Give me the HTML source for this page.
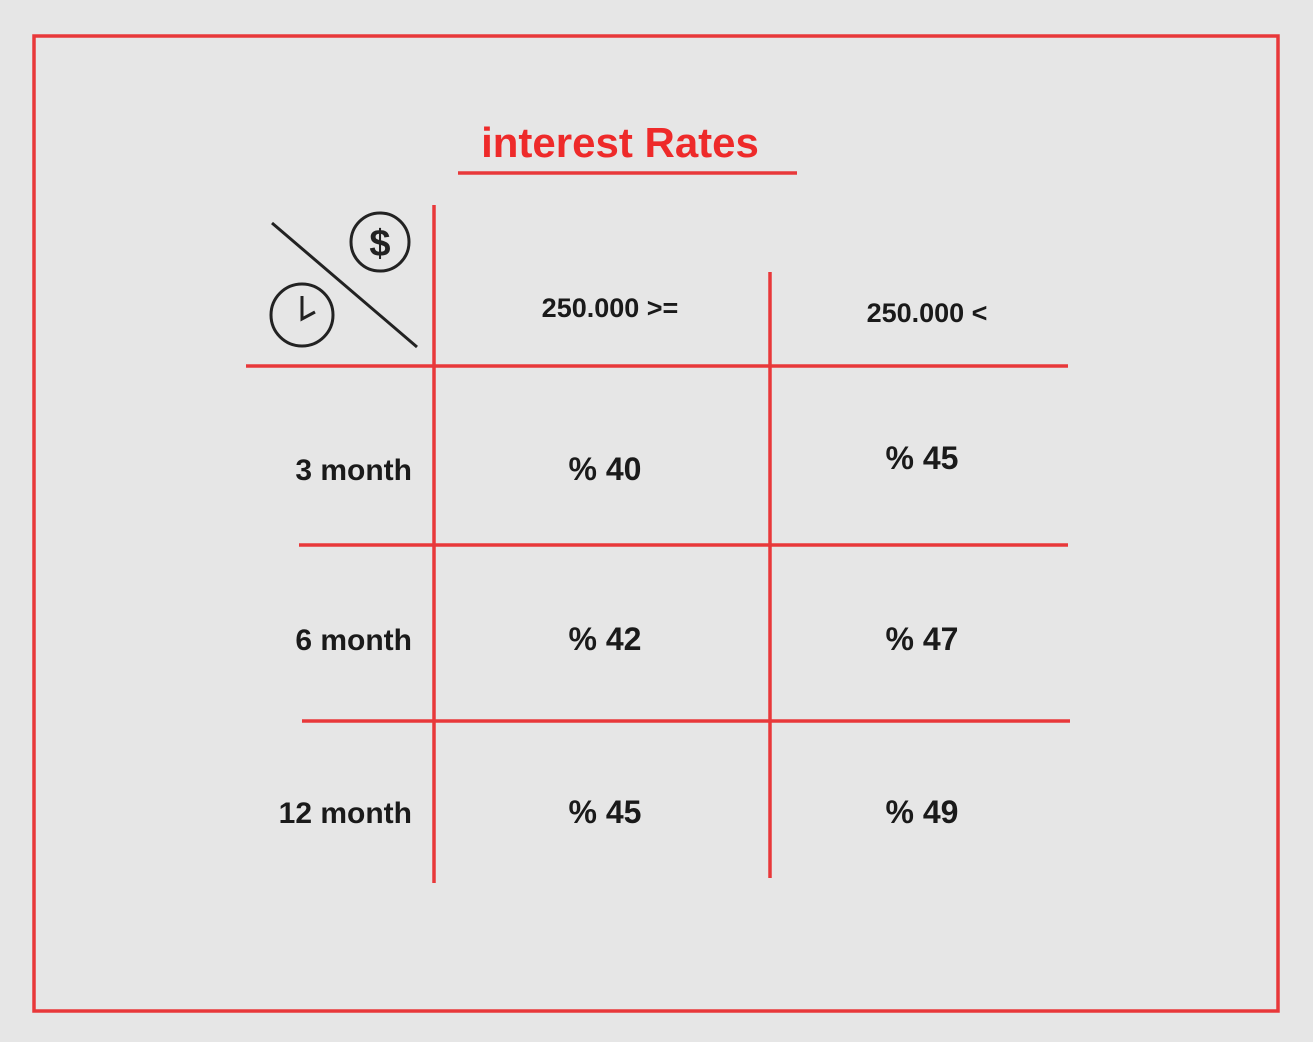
<!DOCTYPE html>
<html><head><meta charset="utf-8"><style>
body{margin:0;background:#e6e6e6;}
svg{display:block;}
text{font-family:"Liberation Sans",sans-serif;}
</style></head><body>
<svg id="chart" width="1313" height="1042" viewBox="0 0 1313 1042">
<rect x="0" y="0" width="1313" height="1042" fill="#e6e6e6"/>
<rect x="34" y="36" width="1244" height="975" fill="none" stroke="#e8383a" stroke-width="3.5"/>
<text x="620" y="157" text-anchor="middle" font-size="42" font-weight="bold" fill="#ee2a2a">interest Rates</text>
<line x1="458" y1="173" x2="797" y2="173" stroke="#e8383a" stroke-width="3.5"/>
<g>
<line x1="272" y1="223" x2="417" y2="347" stroke="#222" stroke-width="3"/>
<circle cx="380" cy="242" r="29" fill="none" stroke="#222" stroke-width="3"/>
<text x="380" y="256" text-anchor="middle" font-size="38" font-weight="bold" fill="#222">$</text>
<circle cx="302" cy="315" r="31" fill="none" stroke="#222" stroke-width="3"/>
<polyline points="302,296 302,319 315,312" fill="none" stroke="#222" stroke-width="3"/>
</g>
<g id="grid"></g>
<g id="cells"></g>
</svg>
<script>
const columns = ["250.000 >=", "250.000 <"];
const rows = ["3 month", "6 month", "12 month"];
const col1Values = [40, 42, 45];
const col2Values = [45, 47, 49];

const NS = "http://www.w3.org/2000/svg";
const colX = [605, 922];
const rowY = [470, 640, 813];
const grid = document.getElementById("grid");
const cells = document.getElementById("cells");
function mk(tag, attrs, parent){const e=document.createElementNS(NS,tag);for(const k in attrs)e.setAttribute(k,attrs[k]);parent.appendChild(e);return e;}
const red="#e8383a";
let l;
l=mk("line",{x1:434,y1:205,x2:434,y2:883,stroke:red,"stroke-width":3.5},grid);


l=mk("line",{x1:770,y1:272,x2:770,y2:878,stroke:red,"stroke-width":3.5},grid);


l=mk("line",{x1:246,y1:366,x2:1068,y2:366,stroke:red,"stroke-width":3.5},grid);


l=mk("line",{x1:299,y1:545,x2:1068,y2:545,stroke:red,"stroke-width":3.5},grid);


l=mk("line",{x1:302,y1:721,x2:1070,y2:721,stroke:red,"stroke-width":3.5},grid);


const headY=[317,322];
columns.forEach((c,i)=>{
  const t=mk("text",{x:colX[i]+5,y:headY[i],"text-anchor":"middle","font-size":27,"font-weight":"bold",fill:"#1a1a1a"},cells);
  t.textContent=c;
  
  
});
rows.forEach((r,i)=>{
  const t=mk("text",{x:412,y:rowY[i]+10,"text-anchor":"end","font-size":30,"font-weight":"bold",fill:"#1a1a1a"},cells);
  t.textContent=r;
  
  
  [col1Values,col2Values].forEach((vals,j)=>{
    const v=mk("text",{x:colX[j],y:rowY[i]+(j===1&&i===0?-1:10),"text-anchor":"middle","font-size":32,"font-weight":"bold",fill:"#1a1a1a"},cells);
    v.textContent="% "+vals[i];
    
    
  });
});
</script>
</body></html>
